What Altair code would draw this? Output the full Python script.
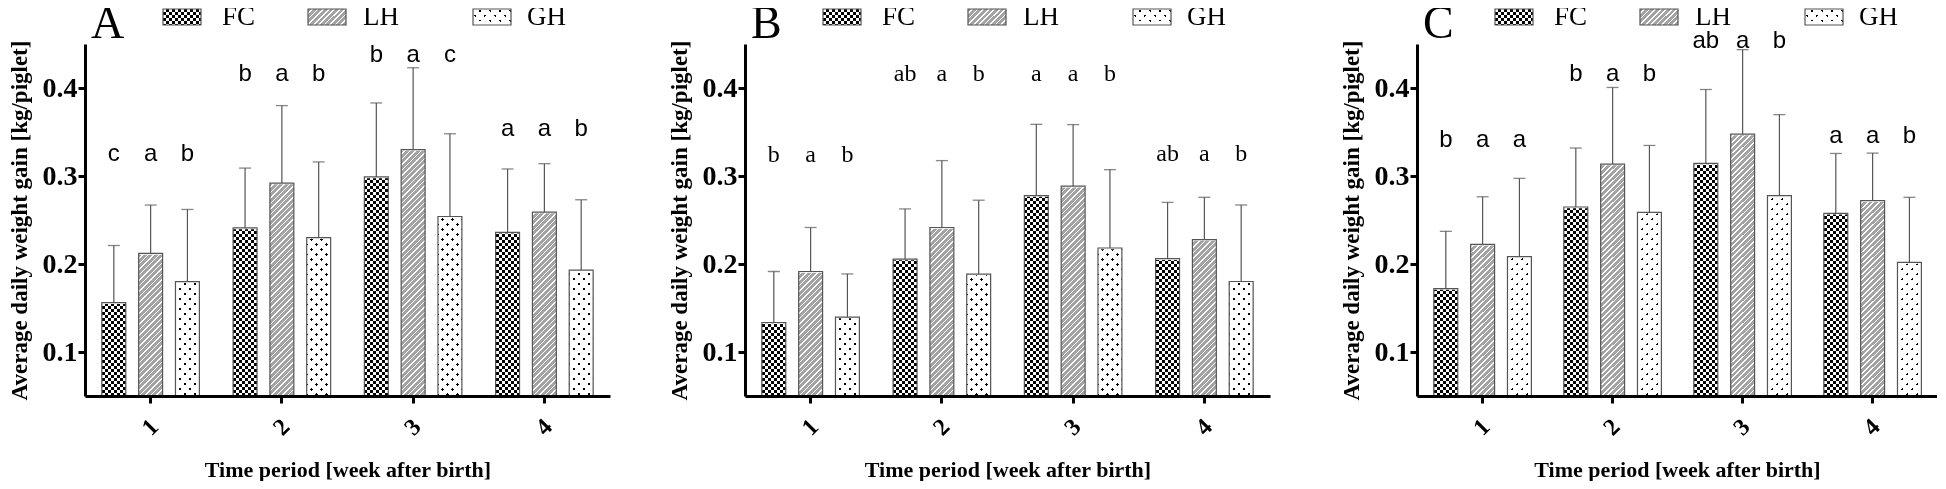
import altair as alt
import pandas as pd

weeks = ["1", "2", "3", "4"]
series = ["FC", "LH", "GH"]

# Panel A
a_fc_mean = [0.156, 0.241, 0.299, 0.236]
a_fc_sd = [0.065, 0.068, 0.084, 0.072]
a_lh_mean = [0.212, 0.292, 0.330, 0.259]
a_lh_sd = [0.055, 0.088, 0.093, 0.055]
a_gh_mean = [0.180, 0.230, 0.254, 0.193]
a_gh_sd = [0.082, 0.086, 0.094, 0.080]
a_letters = [["c", "a", "b"], ["b", "a", "b"], ["b", "a", "c"], ["a", "a", "b"]]
a_letter_y = [0.317, 0.408, 0.4295, 0.345]

# Panel B
b_fc_mean = [0.1335, 0.2056, 0.2777, 0.206]
b_fc_sd = [0.058, 0.057, 0.081, 0.064]
b_lh_mean = [0.1915, 0.2415, 0.2884, 0.2278]
b_lh_sd = [0.050, 0.076, 0.070, 0.048]
b_gh_mean = [0.1397, 0.1885, 0.2182, 0.1801]
b_gh_sd = [0.049, 0.084, 0.089, 0.087]
b_letters = [["b", "a", "b"], ["ab", "a", "b"], ["a", "a", "b"], ["ab", "a", "b"]]
b_letter_y = [0.316, 0.408, 0.408, 0.317]

# Panel C
c_fc_mean = [0.1721, 0.2648, 0.3143, 0.2576]
c_fc_sd = [0.065, 0.067, 0.084, 0.068]
c_lh_mean = [0.2224, 0.3136, 0.3476, 0.272]
c_lh_sd = [0.054, 0.087, 0.096, 0.054]
c_gh_mean = [0.2083, 0.2587, 0.2777, 0.2018]
c_gh_sd = [0.089, 0.076, 0.092, 0.074]
c_letters = [["b", "a", "a"], ["b", "a", "b"], ["ab", "a", "b"], ["a", "a", "b"]]
c_letter_y = [0.333, 0.408, 0.445, 0.337]

y_ticks = [0.1, 0.2, 0.3, 0.4]
y_domain = [0.05, 0.45]
x_title = "Time period [week after birth]"
y_title = "Average daily weight gain [kg/piglet]"

H = 352
PI, PO = 0.35, 0.458
SERIF = "Liberation Serif"
SANS = "Liberation Sans"
EDGE = "#555555"
LH_GRAY = "#a3a3a3"
CLEAR = "rgba(255,255,255,0)"
PATTERN_TOP = 0.4485


def periodic_stops(length, period, on, on_color, off_color):
    stops = []
    k = 0
    while k * period < length:
        a = round(k * period / length, 5)
        b = round(min((k * period + on) / length, 1), 5)
        c = round(min((k + 1) * period / length, 1), 5)
        stops += [alt.GradientStop(color=on_color, offset=a),
                  alt.GradientStop(color=on_color, offset=b),
                  alt.GradientStop(color=off_color, offset=b),
                  alt.GradientStop(color=off_color, offset=c)]
        k += 1
    return stops


def stripes(w, h, period, on, on_color, off_color, vertical):
    if vertical:
        return alt.LinearGradient(gradient="linear",
                                  stops=periodic_stops(w, period, on, on_color, off_color),
                                  x1=0, y1=0, x2=1, y2=0)
    return alt.LinearGradient(gradient="linear",
                              stops=periodic_stops(h, period, on, on_color, off_color),
                              x1=0, y1=0, x2=0, y2=1)


def diag(w, h, period, on, on_color, off_color, up=True):
    L = w + h
    s = L / (w * w + h * h)
    if up:
        x1, y1, x2, y2 = 0, 0, w * s, h * s
    else:
        x1, y1, x2, y2 = 0, 1, w * s, 1 - h * s
    return alt.LinearGradient(gradient="linear",
                              stops=periodic_stops(L, period, on, on_color, off_color),
                              x1=round(x1, 5), y1=round(y1, 5), x2=round(x2, 5), y2=round(y2, 5))


def fills(w, h):
    return {
        "FC": [(stripes(w, h, 6, 3, "black", "white", False), None),
               (stripes(w, h, 6, 3, "white", CLEAR, True), "difference")],
        "LH": [(diag(w, h, 5.5, 3.9, LH_GRAY, "white", up=True), None)],
        "GH": [(diag(w, h, 10, 2.8, "black", "white", up=False), None),
               (diag(w, h, 10, 7.2, "white", CLEAR, up=True), None)],
    }


def panel(letter, means, sds, letters, letter_y, W, letter_font):
    rows = []
    for i, wk in enumerate(weeks):
        for j, s in enumerate(series):
            rows.append(dict(week=wk, series=s, mean=means[j][i], sd=sds[j][i],
                             letter=letters[i][j], lab_y=letter_y[i]))
    df = pd.DataFrame(rows)
    bw = (W / 4) / (3 - PI + 2 * PO) * (1 - PI)
    ph = H * (PATTERN_TOP - y_domain[0]) / (y_domain[1] - y_domain[0])

    yscale = alt.Scale(domain=y_domain, nice=False, zero=False)
    yaxis = alt.Axis(values=y_ticks, format=".1f", grid=False, domainColor="black", domainWidth=3,
                     tickColor="black", tickWidth=3, tickSize=7, labelFont=SERIF,
                     labelFontWeight="bold", labelFontSize=28, labelColor="black", labelPadding=1,
                     titleFont=SERIF, titleFontWeight="bold", titleFontSize=23, titleColor="black",
                     titlePadding=11, zindex=1)
    xaxis = alt.Axis(labelAngle=-45, labelAlign="center", labelBaseline="middle", labelFont=SERIF,
                     labelFontWeight="bold", labelFontSize=24, labelColor="black", labelPadding=24,
                     tickColor="black", tickWidth=3, tickSize=7, domainColor="black", domainWidth=3,
                     titleFont=SERIF, titleFontWeight="bold", titleFontSize=22, titleColor="black",
                     titlePadding=20, zindex=1)
    X = alt.X("week:N", sort=weeks, scale=alt.Scale(domain=weeks, paddingInner=0, paddingOuter=0),
              axis=xaxis, title=x_title)
    XO = alt.XOffset("series:N", sort=series,
                     scale=alt.Scale(domain=series, paddingInner=PI, paddingOuter=PO))

    def Yf(field):
        return alt.Y(field, scale=yscale, axis=yaxis, title=y_title)

    def Yd(v):
        return alt.Y(datum=v, type="quantitative", scale=yscale, axis=yaxis, title=y_title)

    base = alt.Chart(df).transform_calculate(upper="datum.mean + datum.sd")
    layers = []
    for s, specs in fills(bw, ph).items():
        for fill, blend in specs:
            kw = dict(fill=fill, strokeWidth=0)
            if blend:
                kw["blend"] = blend
            layers.append(base.transform_filter(alt.datum.series == s).mark_bar(**kw)
                          .encode(x=X, xOffset=XO, y=Yd(PATTERN_TOP), y2=alt.Y2(datum=y_domain[0])))
    layers.append(base.mark_bar(fill="white", stroke="white", strokeWidth=2.5)
                  .encode(x=X, xOffset=XO, y=Yf("mean:Q"), y2=alt.Y2(datum=y_domain[1])))
    layers.append(base.mark_bar(fill=CLEAR, stroke=EDGE, strokeWidth=1.2)
                  .encode(x=X, xOffset=XO, y=Yf("mean:Q"), y2=alt.Y2(datum=y_domain[0])))
    layers.append(base.mark_rule(color=EDGE, strokeWidth=1.2)
                  .encode(x=X, xOffset=XO, y=Yf("mean:Q"), y2="upper:Q"))
    layers.append(base.mark_tick(color=EDGE, size=12, thickness=1.3, orient="horizontal")
                  .encode(x=X, xOffset=XO, y=Yf("upper:Q")))
    layers.append(base.mark_text(font=letter_font, fontSize=24, color="black", align="center",
                                 baseline="alphabetic")
                  .encode(x=X, xOffset=XO, y=Yf("lab_y:Q"), text="letter:N"))

    # panel letter
    layers.append(alt.Chart(pd.DataFrame({"panel": [letter]}))
                  .mark_text(font=SERIF, fontSize=46, color="black", align="left", baseline="alphabetic")
                  .encode(text="panel:N", x=alt.value(6), y=alt.value(-6)))
    # legend
    sw_x = [78, 223, 388]
    tx_x = [137, 278, 442]
    sw_w, sw_h = 38, 16
    sw_fills = fills(sw_w, sw_h)
    for k, s in enumerate(series):
        one = pd.DataFrame({"series": [s]})
        for fill, blend in sw_fills[s]:
            kw = dict(fill=fill, strokeWidth=0)
            if blend:
                kw["blend"] = blend
            layers.append(alt.Chart(one).mark_rect(**kw).encode(
                x=alt.value(sw_x[k]), x2=alt.value(sw_x[k] + sw_w),
                y=alt.value(-35), y2=alt.value(-35 + sw_h)))
        layers.append(alt.Chart(one).mark_rect(fill=CLEAR, stroke=EDGE, strokeWidth=1.2).encode(
            x=alt.value(sw_x[k]), x2=alt.value(sw_x[k] + sw_w),
            y=alt.value(-35), y2=alt.value(-35 + sw_h)))
        layers.append(alt.Chart(one).mark_text(font=SERIF, fontSize=27, color="black", align="left",
                                               baseline="alphabetic")
                      .encode(text="series:N", x=alt.value(tx_x[k]), y=alt.value(-19)))
    return alt.layer(*layers).properties(width=W, height=H)


pa = panel("A", [a_fc_mean, a_lh_mean, a_gh_mean], [a_fc_sd, a_lh_sd, a_gh_sd],
           a_letters, a_letter_y, 525, SANS)
pb = panel("B", [b_fc_mean, b_lh_mean, b_gh_mean], [b_fc_sd, b_lh_sd, b_gh_sd],
           b_letters, b_letter_y, 525, SERIF)
pc = panel("C", [c_fc_mean, c_lh_mean, c_gh_mean], [c_fc_sd, c_lh_sd, c_gh_sd],
           c_letters, c_letter_y, 520, SANS)

chart = alt.hconcat(alt.hconcat(pa, pb, spacing=58), pc, spacing=70).properties(
    padding={"top": -7, "left": 0, "right": 0, "bottom": 0},
    background="white",
).configure_view(stroke=None)

chart.save("out.html", embed_options={"renderer": "svg", "actions": False})
